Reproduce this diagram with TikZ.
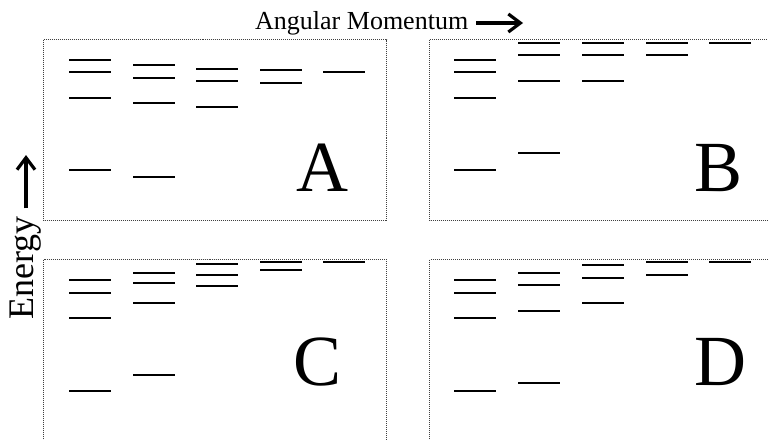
\documentclass[tikz,border=0pt]{standalone}
\usepackage{fontspec}
\setmainfont{Liberation Serif}
\usetikzlibrary{arrows.meta,calc}
\begin{document}
\begin{tikzpicture}[x=1pt,y=-1pt,
  level/.style={line width=2.8pt},
  frame/.style={draw=black!75, line width=0.8pt, dash pattern=on 1pt off 1pt},
  bigletter/.style={font=\fontsize{72}{72}\selectfont, inner sep=0pt, anchor=base},
  axisarrow/.style={line width=3.2pt, -{Straight Barb[length=12pt,width=18pt]}}]
\useasboundingbox (0,0) rectangle (768,439);
\clip (0,0) rectangle (768,439);
% frames
\draw[frame] (43.5,39.5) rectangle (386.5,220.5);
\draw[frame] (429.5,39.5) rectangle (790,220.5);
\draw[frame] (43.5,259.5) rectangle (386.5,460);
\draw[frame] (429.5,259.5) rectangle (790,460);
% levels A
\foreach \x/\ys in {69/{60,72,98,170}, 133/{65,78,103,177}, 196/{69,81,107}, 260/{70,83}, 323/{72}}
  \foreach \y in \ys \draw[level] (\x,\y) -- ++(42,0);
% levels B
\foreach \x/\ys in {454/{60,72,98,170}, 518/{43,55,81,153}, 582/{43,55,81}, 646/{43,55}, 709/{43}}
  \foreach \y in \ys \draw[level] (\x,\y) -- ++(42,0);
% levels C
\foreach \x/\ys in {69/{280,293,318,391}, 133/{273,283,303,375}, 196/{264,275,286}, 260/{262,270}, 323/{262}}
  \foreach \y in \ys \draw[level] (\x,\y) -- ++(42,0);
% levels D
\foreach \x/\ys in {454/{280,293,318,391}, 518/{273,285,311,383}, 582/{265,278,303}, 646/{262,275}, 709/{262}}
  \foreach \y in \ys \draw[level] (\x,\y) -- ++(42,0);
% panel letters
\node[bigletter] (la) at (322.7,191.7) {A};
\node[bigletter] (lb) at (718.3,191.7) {B};
\node[bigletter] (lc) at (317.5,385.5) {C};
\node[bigletter] (ld) at (720.8,385.7) {D};
% axis labels
\node[font=\fontsize{26}{26}\selectfont, inner sep=0pt, anchor=base west] (am) at (255,29.3) {Angular Momentum};
\coordinate (amtip) at (523,23);
\draw[axisarrow] ($(am.east |- amtip)+(8,0)$) -- (amtip);
\node[font=\fontsize{36}{36}\selectfont, inner sep=0pt, rotate=90, anchor=base west] (en) at (33.3,320) {Energy};
\coordinate (entip) at (26,155);
\draw[axisarrow] ($(en.east -| entip)+(0,-8)$) -- (entip);
\end{tikzpicture}
\end{document}
